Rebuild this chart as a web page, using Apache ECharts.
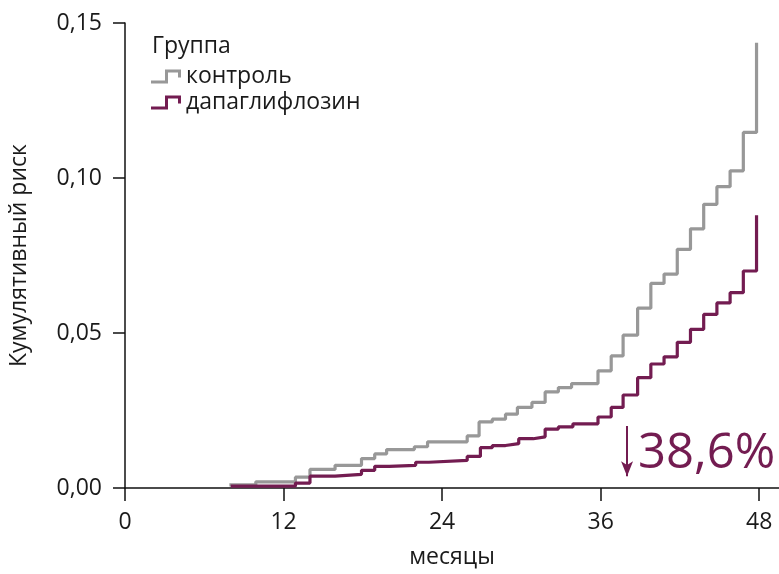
<!DOCTYPE html>
<html>
<head>
<meta charset="utf-8">
<script src="https://cdn.jsdelivr.net/npm/echarts@6/dist/echarts.min.js"></script>
<style>
  html, body { margin: 0; padding: 0; background: #ffffff; }
  #chart { width: 779px; height: 574px; }
</style>
</head>
<body>
<div id="chart"></div>
<script>
// Cumulative risk (step curves) by treatment group
const monthTicks = [0, 12, 24, 36, 48];
const riskTicks = [0, 0.05, 0.10, 0.15];

const controlMonths = [7.9, 9.9, 12.9, 14.0, 15.9, 17.9, 18.9, 19.8, 21.9, 22.9, 25.9, 26.8, 27.8, 28.8, 29.7, 30.8, 31.8, 32.8, 33.8, 35.8, 36.8, 37.7, 38.8, 39.8, 40.8, 41.8, 42.8, 43.8, 44.8, 45.8, 46.8, 47.8];
const controlRisk = [0.0010, 0.0020, 0.0035, 0.0060, 0.0073, 0.0095, 0.0110, 0.0124, 0.0133, 0.0149, 0.0168, 0.0213, 0.0222, 0.0238, 0.0260, 0.0276, 0.0310, 0.0324, 0.0337, 0.0378, 0.0426, 0.0493, 0.0580, 0.0660, 0.0690, 0.0770, 0.0836, 0.0915, 0.0972, 0.1023, 0.1147, 0.1436];

const dapaMonths = [8.0, 12.9, 14.0, 15.9, 17.9, 18.9, 20.0, 22.0, 23.0, 25.9, 26.9, 27.8, 28.8, 29.8, 30.9, 31.8, 32.8, 33.9, 35.8, 36.8, 37.7, 38.8, 39.8, 40.8, 41.8, 42.8, 43.8, 44.8, 45.8, 46.8, 47.8];
const dapaRisk = [0.0006, 0.0016, 0.0038, 0.0044, 0.0057, 0.0070, 0.0073, 0.0083, 0.0089, 0.0102, 0.0130, 0.0137, 0.0143, 0.0159, 0.0165, 0.0190, 0.0197, 0.0207, 0.0229, 0.0260, 0.0300, 0.0356, 0.0400, 0.0423, 0.0470, 0.0512, 0.0560, 0.0597, 0.0630, 0.0700, 0.0880];

const groupNames = ['контроль', 'дапаглифлозин'];
const reductionLabel = '38,6%';
const arrowMonth = 38.0;
const arrowFrom = 0.020;
const arrowTo = 0.0038;

const GRAY = '#989898';
const PLUM = '#731c51';
const INK = '#1a1a1a';
const FONT = 'Open Sans';
const FS = 23;
const stepIcon = 'path://M0,11 L14,11 L14,0 L30,0 L30,8 L27,8 L27,3 L17,3 L17,14 L0,14 Z';

const pairs = (xs, ys) => xs.map((x, i) => [x, ys[i]]);

const chart = echarts.init(document.getElementById('chart'), null, { renderer: 'canvas' });
chart.setOption({
  animation: false,
  backgroundColor: '#ffffff',
  textStyle: { fontFamily: FONT },
  title: {
    text: 'Группа',
    left: 147,
    top: 30,
    textStyle: { fontFamily: FONT, fontSize: FS, fontWeight: 'normal', color: INK }
  },
  legend: {
    orient: 'vertical',
    left: 146,
    top: 60,
    itemGap: 3,
    itemWidth: 30,
    itemHeight: 14,
    data: [
      { name: groupNames[0], icon: stepIcon, itemStyle: { color: GRAY } },
      { name: groupNames[1], icon: stepIcon, itemStyle: { color: PLUM } }
    ],
    textStyle: { fontFamily: FONT, fontSize: FS, color: INK }
  },
  grid: { left: 123, right: 0, top: 23, bottom: 79, containLabel: false },
  xAxis: {
    type: 'value',
    min: 0,
    max: 49.5,
    interval: 12,
    name: 'месяцы',
    nameLocation: 'middle',
    nameGap: 58,
    nameTextStyle: { fontFamily: FONT, fontSize: FS, color: INK },
    axisLine: { show: true, onZero: false, lineStyle: { color: '#111', width: 1.5 } },
    axisTick: { show: true, length: 13, customValues: monthTicks, lineStyle: { color: '#111', width: 1.5 } },
    axisLabel: { customValues: monthTicks, margin: 23, fontFamily: FONT, fontSize: FS, color: INK },
    splitLine: { show: false }
  },
  yAxis: {
    type: 'value',
    min: 0,
    max: 0.15,
    interval: 0.05,
    name: 'Кумулятивный риск',
    nameLocation: 'middle',
    nameGap: 94,
    nameTextStyle: { fontFamily: FONT, fontSize: FS, color: INK },
    axisLine: { show: true, lineStyle: { color: '#111', width: 1.5 } },
    axisTick: { show: true, length: 12, customValues: riskTicks, lineStyle: { color: '#111', width: 1.5 } },
    axisLabel: {
      customValues: riskTicks,
      margin: 23,
      fontFamily: FONT,
      fontSize: FS,
      color: INK,
      formatter: v => v.toFixed(2).replace('.', ',')
    },
    splitLine: { show: false }
  },
  series: [
    {
      name: groupNames[0],
      type: 'line',
      step: 'end',
      showSymbol: false,
      data: pairs(controlMonths, controlRisk),
      lineStyle: { color: GRAY, width: 3.2 },
      itemStyle: { color: GRAY },
      z: 2
    },
    {
      name: groupNames[1],
      type: 'line',
      step: 'end',
      showSymbol: false,
      data: pairs(dapaMonths, dapaRisk),
      lineStyle: { color: PLUM, width: 3.2 },
      itemStyle: { color: PLUM },
      z: 3,
      markLine: {
        silent: true,
        symbol: ['none', 'arrow'],
        symbolSize: [9, 15],
        label: { show: false },
        lineStyle: { color: PLUM, width: 2, type: 'solid' },
        data: [[{ coord: [arrowMonth, arrowFrom] }, { coord: [arrowMonth, arrowTo] }]]
      }
    }
  ],
  graphic: [
    {
      type: 'text',
      left: 638,
      top: 430,
      style: { text: reductionLabel, fontFamily: FONT, fontSize: 49, fill: PLUM }
    }
  ]
});
</script>
</body>
</html>
